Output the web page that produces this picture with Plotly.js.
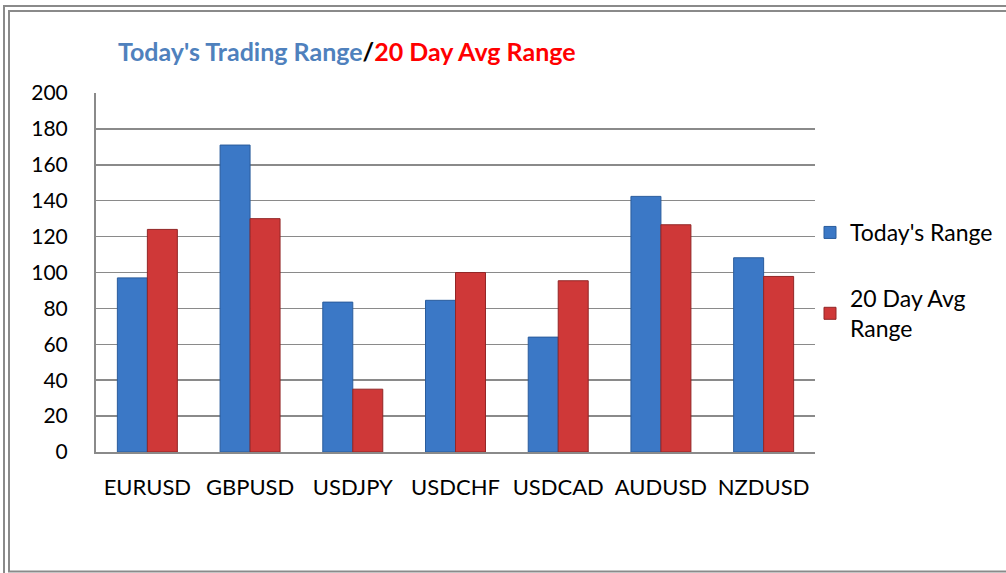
<!DOCTYPE html>
<html>
<head>
<meta charset="utf-8">
<script src="https://cdn.plot.ly/plotly-3.0.1.min.js"></script>
<style>
  html, body { margin: 0; padding: 0; background: #fff; }
  #chart { width: 1006px; height: 573px; }
</style>
</head>
<body>
<div id="chart"></div>
<script>
const categories = ["EURUSD", "GBPUSD", "USDJPY", "USDCHF", "USDCAD", "AUDUSD", "NZDUSD"];
const todaysRange = [97, 171, 83.5, 84.5, 64, 142.4, 108.2];
const avgRange20 = [124, 130, 35, 100, 95.4, 126.6, 97.8];
const seriesNames = ["Today's Range", "20 Day Avg<br>Range"];
const yTicks = [0, 20, 40, 60, 80, 100, 120, 140, 160, 180, 200];

const FONT = "Lato, 'Open Sans', sans-serif";
const W = 1006, H = 573;
const M = {l: 96, r: 191, t: 93, b: 121, autoexpand: false};
const pw = W - M.l - M.r, ph = H - M.t - M.b;
const px = x => (x - M.l) / pw;
const py = y => (H - M.b - y) / ph;

const traces = [
  {
    type: 'bar', x: categories, y: todaysRange, name: seriesNames[0],
    legendgroup: 'a',
    marker: {color: '#3B78C6', line: {color: '#2A5C9C', width: 1}},
    hoverinfo: 'x+y'
  },
  {
    type: 'bar', x: categories, y: avgRange20, name: seriesNames[1],
    legendgroup: 'b',
    marker: {color: '#CF3838', line: {color: '#922626', width: 1}},
    hoverinfo: 'x+y'
  }
];

const frameColor = '#8a8a8a';
const layout = {
  width: W, height: H,
  margin: M,
  paper_bgcolor: '#ffffff', plot_bgcolor: '#ffffff',
  font: {family: FONT, size: 21, color: '#000'},
  title: {
    text: "<span style='color:#4F81BD'>Today's Trading Range</span><span style='color:#000000'>/</span><span style='color:#FF0000'>20 Day Avg Range</span>",
    font: {family: FONT, size: 25, weight: 'bold'},
    x: 118 / W, xref: 'container', xanchor: 'left',
    y: 1 - 52 / H, yref: 'container', yanchor: 'middle'
  },
  barmode: 'group', bargap: 0.416, bargroupgap: 0,
  xaxis: {
    type: 'category', automargin: false,
    showgrid: false, showline: true, linecolor: '#8a8a8a', linewidth: 2,
    ticks: '', tickfont: {family: FONT, size: 22, color: '#000'},
    ticklabelstandoff: 15, fixedrange: true
  },
  yaxis: {
    range: [0, 200], tickvals: yTicks, ticktext: yTicks.map(String), automargin: false,
    showgrid: true, gridcolor: '#8a8a8a', gridwidth: 1.5,
    showline: true, linecolor: '#8a8a8a', linewidth: 2,
    zeroline: false, ticks: '',
    tickfont: {family: FONT, size: 21, color: '#000'},
    ticklabelstandoff: 22, fixedrange: true
  },
  showlegend: true,
  legend: {
    x: px(810), xanchor: 'left', y: py(211), yanchor: 'top',
    font: {family: FONT, size: 23, color: '#000'},
    tracegroupgap: 33, itemwidth: 30, bgcolor: 'rgba(0,0,0,0)'
  },
  shapes: [
    {type: 'rect', xref: 'paper', yref: 'paper', x0: px(4), x1: px(1030), y0: py(6), y1: py(580),
     line: {color: frameColor, width: 2}, fillcolor: 'rgba(0,0,0,0)', layer: 'below'},
    {type: 'rect', xref: 'paper', yref: 'paper', x0: px(9), x1: px(1025), y0: py(11), y1: py(571.5),
     line: {color: frameColor, width: 2}, fillcolor: 'rgba(0,0,0,0)', layer: 'below'}
  ]
};

Plotly.newPlot('chart', traces, layout, {displayModeBar: false, staticPlot: true});
</script>
</body>
</html>
